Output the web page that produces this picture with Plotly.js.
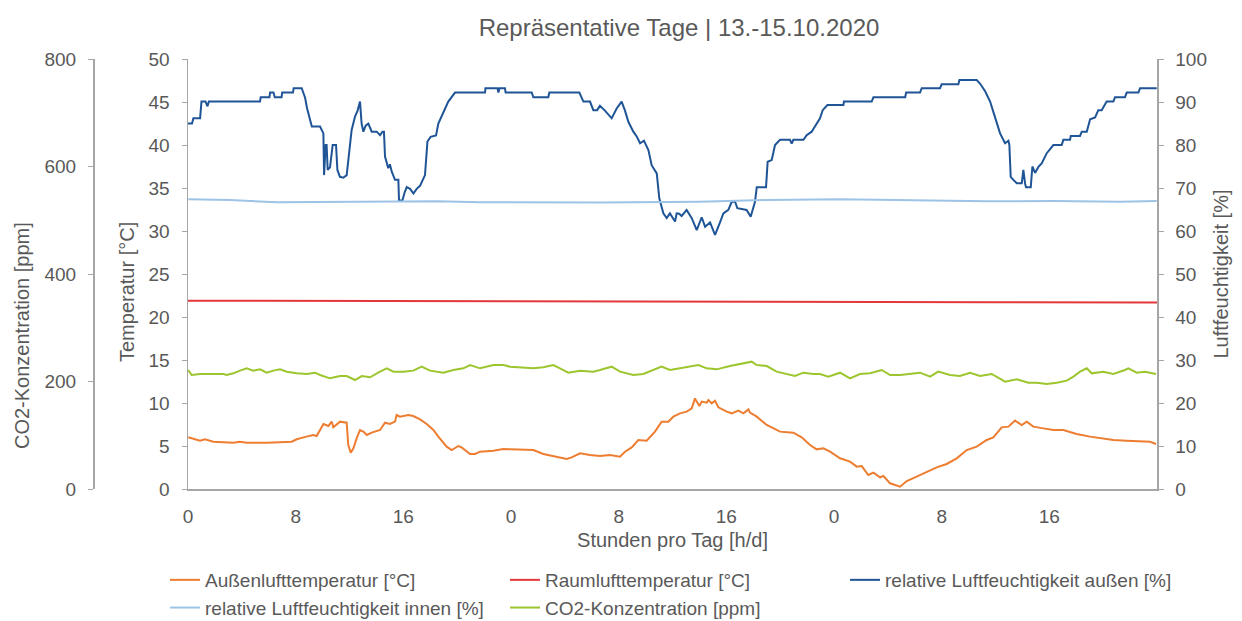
<!DOCTYPE html>
<html>
<head>
<meta charset="utf-8">
<script src="https://cdn.plot.ly/plotly-3.0.1.min.js"></script>
<style>html,body{margin:0;padding:0;background:#fff;}#chart{width:1242px;height:621px;}</style>
</head>
<body>
<div id="chart"></div>
<script>
// x-axis tick labels (hours of each day)
var xTickVals = [0, 8, 16, 24, 32, 40, 48, 56, 64];
var xTickText = ['0', '8', '16', '0', '8', '16', '0', '8', '16'];
var dayBounds = [24, 48];

// Außenlufttemperatur [°C]
var tOutH = [0.02,0.89,1.26,1.88,3.37,3.86,4.36,5.85,7.70,8.08,8.57,9.31,9.56,9.81,10.06,10.43,10.68,10.8,11.3,11.79,11.91,12.09,12.29,12.53,12.78,13.03,13.28,13.65,14.02,14.27,14.64,15.01,15.38,15.5,15.75,16.37,16.74,17.24,17.74,18.23,18.6,19.22,19.59,20.09,20.33,20.96,21.33,21.7,22.69,23.43,23.93,24.67,25.66,26.4,27.15,28.14,28.51,29.13,29.87,30.61,31.36,32.1,32.47,32.97,33.46,34.08,34.7,35.19,35.69,36.06,36.56,37.05,37.43,37.67,37.8,38.0,38.17,38.54,38.67,38.91,39.16,39.41,40.03,40.4,40.89,41.27,41.64,41.76,42.26,43.0,43.99,44.98,45.6,46.22,46.71,47.21,47.71,48.45,49.19,49.69,50.06,50.55,50.93,51.42,51.67,52.17,52.91,53.41,54.14,54.89,55.63,56.37,57.12,57.86,58.6,59.35,59.84,60.46,60.96,61.45,61.95,62.32,62.81,63.56,64.3,65.04,66.03,67.02,68.01,68.76,69.75,70.74,71.48,71.93];
var tOutV = [6.01,5.62,5.78,5.5,5.39,5.5,5.39,5.39,5.5,5.78,6.0,6.28,6.16,6.86,7.56,7.33,7.83,7.17,7.83,7.71,5.12,4.22,4.73,5.89,6.86,6.67,6.28,6.55,6.78,6.86,7.71,7.56,7.83,8.6,8.41,8.6,8.49,8.10,7.56,6.86,6.09,4.92,4.53,5.0,4.84,4.07,4.07,4.34,4.46,4.65,4.61,4.61,4.53,4.07,3.84,3.49,3.68,4.15,3.95,3.84,3.95,3.76,4.34,4.84,5.70,5.62,6.67,7.83,7.83,8.41,8.80,8.99,9.38,10.54,10.16,9.65,10.16,10.04,10.35,9.96,10.27,9.50,8.99,8.80,9.11,8.80,9.26,8.88,8.41,7.44,6.67,6.55,6.01,5.12,4.61,4.73,4.34,3.57,3.18,2.6,2.67,1.63,1.9,1.36,1.51,0.66,0.27,0.93,1.43,2.02,2.52,2.91,3.57,4.53,4.92,5.70,6.01,7.17,7.25,7.95,7.44,7.83,7.25,7.05,6.86,6.86,6.40,6.09,5.89,5.70,5.62,5.58,5.50,5.23];

// Raumlufttemperatur [°C]
var tInH = [0, 12, 24, 36, 48, 60, 72];
var tInV = [21.9, 21.85, 21.8, 21.8, 21.75, 21.72, 21.7];

// relative Luftfeuchtigkeit außen [%]
var rhOutH = [0.0,0.3,0.4,0.9,1.0,1.3,1.45,1.55,5.35,5.4,6.05,6.1,6.35,6.45,6.95,7.0,7.8,7.85,8.45,8.7,8.85,9.06,9.2,9.81,10.06,10.11,10.23,10.3,10.38,10.55,10.75,11.0,11.1,11.29,11.54,11.79,11.92,12.16,12.41,12.6,12.78,12.9,13.03,13.2,13.4,13.65,14.02,14.27,14.45,14.56,14.64,14.88,15.0,15.14,15.38,15.63,15.68,15.93,16.1,16.25,16.5,16.75,16.99,17.24,17.61,17.79,18.03,18.43,18.6,18.97,19.34,19.84,22.07,22.1,23.0,23.06,23.15,23.55,23.6,25.54,25.66,26.77,26.85,29.08,29.25,29.38,29.87,30.12,30.4,30.61,30.98,31.2,31.48,31.85,32.22,32.47,32.72,33.09,33.34,33.59,33.88,34.21,34.45,34.83,35.02,35.32,35.57,35.81,36.0,36.19,36.31,36.5,36.68,37.05,37.43,37.8,38.17,38.42,38.79,39.16,39.53,39.78,40.15,40.4,40.65,40.82,41.51,41.81,42.13,42.26,42.95,43.07,43.37,43.62,43.99,44.73,44.86,44.98,45.73,45.97,46.34,46.59,46.96,47.16,47.51,48.7,48.74,50.8,50.93,53.29,53.36,54.39,54.52,55.88,56.0,57.24,57.32,58.6,58.85,59.23,59.6,59.84,60.09,60.34,60.71,60.96,61.03,61.13,61.33,61.58,61.95,62.07,62.2,62.27,62.62,62.74,62.94,63.19,63.43,63.81,64.3,64.92,65.04,65.54,65.59,66.28,66.41,66.78,67.03,67.4,67.64,67.89,68.26,68.76,68.88,69.62,69.75,70.62,70.74,71.98];
var rhOutV = [85.0,85.0,86.2,86.2,90.1,90.1,89.0,90.1,90.1,91.1,91.1,92.2,92.2,91.1,91.1,92.2,92.2,93.2,93.2,91.0,88.5,85.8,84.3,84.3,82.7,73.0,80.0,80.0,74.2,74.8,80.0,80.0,74.2,72.6,72.4,73.0,76.5,83.5,86.6,88.0,90.1,85.0,83.1,84.5,85.0,83.1,83.1,82.3,83.1,83.1,77.3,74.6,75.5,73.8,71.9,71.9,67.1,67.1,69.0,70.2,69.8,68.7,69.8,70.5,73.0,80.8,81.9,82.2,85.0,87.7,90.1,92.2,92.2,93.2,93.2,92.2,93.2,93.2,92.2,92.2,91.1,91.1,92.2,92.2,91.1,90.1,90.1,88.1,88.1,89.1,88.0,87.2,86.2,88.5,90.1,88.0,85.4,83.1,82.0,80.4,81.0,78.8,75.3,73.4,67.6,64.1,63.0,64.1,63.0,62.2,64.1,64.0,63.5,64.9,63.0,60.2,63.2,61.0,62.0,59.1,62.0,64.1,64.9,66.8,66.8,65.3,64.9,63.3,66.8,70.2,70.2,76.1,76.5,80.0,81.2,81.2,80.3,81.2,81.2,82.3,83.1,84.3,86.2,88.1,89.3,89.3,90.1,90.1,91.1,91.1,92.2,92.2,93.2,93.2,94.1,94.1,95.1,95.1,94.3,92.5,90.1,87.7,85.0,82.7,80.4,81.0,80.0,72.6,71.9,71.1,71.1,74.2,71.0,70.2,70.2,75.0,73.5,74.9,75.7,78.1,80.0,80.0,81.2,81.2,82.1,82.1,83.1,83.1,86.0,86.4,88.1,88.1,90.1,90.1,91.1,91.1,92.2,92.2,93.2,93.2];

// relative Luftfeuchtigkeit innen [%]
var rhInH = [0.02, 3.12, 6.59, 11.79, 18.48, 21.7, 24.67, 30.61, 38.04, 40.52, 43.0, 48.45, 51.91, 59.35, 64.3, 69.25, 71.98];
var rhInV = [67.4, 67.2, 66.7, 66.8, 66.9, 66.7, 66.7, 66.6, 66.8, 67.05, 67.2, 67.4, 67.2, 66.9, 67.0, 66.8, 67.0];

// CO2-Konzentration [ppm]
var co2H = [0.02,0.27,0.89,2.63,2.87,3.37,3.86,4.36,4.85,5.35,5.85,6.34,6.84,7.33,8.08,8.82,9.44,9.81,10.55,11.3,11.79,12.41,12.91,13.53,14.27,14.77,15.26,16.0,16.74,17.36,17.98,18.97,19.72,20.46,20.96,21.7,22.69,23.43,23.93,24.67,25.66,26.4,27.15,27.64,28.26,29.13,30.12,30.61,31.48,32.1,33.09,33.83,34.58,35.19,35.81,36.56,37.05,37.92,38.54,39.28,40.27,41.02,41.88,42.26,43.0,43.74,44.49,45.1,45.72,46.47,46.96,47.58,48.45,49.19,49.93,50.68,51.54,52.17,52.91,53.65,54.39,55.14,55.75,56.62,57.36,58.11,58.85,59.72,60.71,61.58,62.44,63.06,63.81,64.55,65.29,65.79,66.28,66.78,67.15,68.01,68.76,69.62,69.87,70.49,71.11,71.93];
var co2V = [221.4,212.1,214.0,214.0,212.1,215.2,220.2,224.5,220.2,222.6,216.4,220.2,222.6,218.3,215.2,214.0,216.4,212.1,205.9,210.2,210.2,202.8,210.2,207.8,218.3,224.5,218.3,218.3,220.2,227.6,220.2,216.4,221.4,224.5,230.7,224.5,230.7,230.7,227.6,226.4,224.5,226.4,230.7,224.5,216.4,220.2,218.3,221.4,227.6,218.3,212.1,214.0,221.4,227.6,221.4,224.5,227.6,230.7,224.5,222.6,228.8,232.6,236.9,230.7,228.8,218.3,214.0,210.2,216.4,214.0,214.0,209.0,216.4,205.9,214.0,215.2,221.4,212.1,212.1,214.0,216.4,209.0,218.3,212.1,210.2,216.4,210.2,214.0,199.7,204.0,197.8,197.8,195.4,197.8,201.6,209.0,218.3,224.5,215.2,218.3,214.0,221.4,224.5,216.4,218.3,214.0];

var axisGrey = '#a6a6a6';
var textGrey = '#595959';

var traces = [
  {x: tOutH, y: tOutV, name: 'Außenlufttemperatur [°C]', type: 'scatter', mode: 'lines', yaxis: 'y', line: {color: '#ED7D31', width: 2}},
  {x: tInH, y: tInV, name: 'Raumlufttemperatur [°C]', type: 'scatter', mode: 'lines', yaxis: 'y', line: {color: '#E3373A', width: 2}},
  {x: rhOutH, y: rhOutV, name: 'relative Luftfeuchtigkeit außen [%]', type: 'scatter', mode: 'lines', yaxis: 'y3', line: {color: '#1F5596', width: 2}},
  {x: rhInH, y: rhInV, name: 'relative Luftfeuchtigkeit innen [%]', type: 'scatter', mode: 'lines', yaxis: 'y3', line: {color: '#9DC3E6', width: 2}},
  {x: co2H, y: co2V, name: 'CO2-Konzentration [ppm]', type: 'scatter', mode: 'lines', yaxis: 'y2', line: {color: '#9CC52E', width: 2}}
];

var xDomain = [(188 - 93) / 1064, 1];

var layout = {
  width: 1242, height: 621,
  margin: {l: 93, r: 85, t: 59, b: 132},
  paper_bgcolor: '#ffffff', plot_bgcolor: '#ffffff',
  font: {family: 'Liberation Sans, Arial, sans-serif', color: textGrey, size: 19},
  showlegend: true,
  title: {text: 'Repräsentative Tage | 13.-15.10.2020', xref: 'container', x: 0.5467, xanchor: 'center', yref: 'container', y: 0.955, yanchor: 'middle', font: {size: 24, color: textGrey}},
  xaxis: {
    domain: xDomain, range: [0, 72], tickmode: 'array', tickvals: xTickVals, ticktext: xTickText,
    showline: true, linecolor: axisGrey, linewidth: 1.5, ticks: '', showgrid: false, zeroline: false,
    ticklabelstandoff: 10, tickfont: {size: 19, color: textGrey},
    title: {text: 'Stunden pro Tag [h/d]', font: {size: 20, color: textGrey}, standoff: 6}
  },
  xaxis2: {
    domain: xDomain, range: [0, 72], overlaying: 'x', anchor: 'y', tickmode: 'array', tickvals: dayBounds,
    showticklabels: false, ticks: '', showgrid: true, gridcolor: '#d9d9d9', gridwidth: 1.2, showline: false, zeroline: false
  },
  yaxis: {
    range: [0, 50], dtick: 5, showline: true, linecolor: axisGrey, linewidth: 1.5, ticks: 'outside', ticklen: 5, tickcolor: axisGrey,
    showgrid: false, zeroline: false, ticklabelstandoff: 8, tickfont: {size: 19, color: textGrey}
  },
  yaxis2: {
    range: [0, 800], dtick: 200, overlaying: 'y', side: 'left', anchor: 'free', position: 0,
    showline: true, linecolor: axisGrey, linewidth: 1.5, ticks: 'outside', ticklen: 5, tickcolor: axisGrey,
    showgrid: false, zeroline: false, ticklabelstandoff: 8, tickfont: {size: 19, color: textGrey}
  },
  yaxis3: {
    range: [0, 100], dtick: 10, overlaying: 'y', side: 'right', anchor: 'x',
    showline: true, linecolor: axisGrey, linewidth: 1.5, ticks: 'outside', ticklen: 5, tickcolor: axisGrey,
    showgrid: false, zeroline: false, ticklabelstandoff: 8, tickfont: {size: 19, color: textGrey},
    title: {text: 'Luftfeuchtigkeit [%]', font: {size: 20, color: textGrey}, standoff: 8}
  },
  annotations: [
    {text: 'CO2-Konzentration [ppm]', xref: 'paper', yref: 'paper', x: (22 - 93) / 1064, y: (489 - 336) / 430,
     xanchor: 'center', yanchor: 'middle', textangle: -90, showarrow: false, font: {size: 20, color: textGrey}},
    {text: 'Temperatur [°C]', xref: 'paper', yref: 'paper', x: (127 - 93) / 1064, y: (489 - 292) / 430,
     xanchor: 'center', yanchor: 'middle', textangle: -90, showarrow: false, font: {size: 20, color: textGrey}}
  ],
  legend: {
    orientation: 'h', xref: 'container', x: 165 / 1242, xanchor: 'left',
    yref: 'container', y: 1 - 561 / 621, yanchor: 'top',
    entrywidth: 295, entrywidthmode: 'pixels', itemwidth: 30,
    font: {size: 19, color: textGrey}, bgcolor: 'rgba(0,0,0,0)', tracegroupgap: 0
  }
};

Plotly.newPlot('chart', traces, layout, {displayModeBar: false, staticPlot: true});
</script>
</body>
</html>
